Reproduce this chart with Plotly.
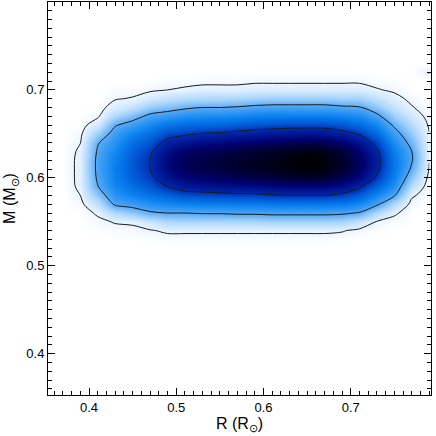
import numpy as np
import plotly.graph_objects as go

# ============================================================
# 1. Data: density grid
# ============================================================
radius = [0.37, 0.39, 0.41, 0.43, 0.45, 0.47, 0.49, 0.51, 0.53, 0.55, 0.57,
          0.59, 0.61, 0.63, 0.65, 0.67, 0.69, 0.71, 0.73, 0.75, 0.77, 0.79]
mass = [0.52, 0.53, 0.54, 0.55, 0.56, 0.57, 0.58, 0.59, 0.60, 0.61, 0.62,
        0.63, 0.64, 0.65, 0.66, 0.67, 0.68, 0.69, 0.70, 0.71, 0.72]

# one list per radius column, values along mass (0.52 -> 0.72), peak = 1
density_cols = [
    [0, 0, 0, 0, 0, 0, 0, 0, 0, 0, 0, 0, 0, 0, 0, 0, 0, 0, 0, 0, 0],
    [0, 0, 0, 0, 0, 0.012, 0.03, 0.042, 0.045, 0.045, 0.045, 0.04, 0.028, 0.015, 0.005, 0, 0, 0, 0, 0, 0],
    [0, 0, 0.005, 0.015, 0.04, 0.10, 0.18, 0.245, 0.27, 0.28, 0.28, 0.265, 0.24, 0.16, 0.07, 0.02, 0.005, 0, 0, 0, 0],
    [0, 0, 0.01, 0.035, 0.12, 0.27, 0.34, 0.38, 0.40, 0.41, 0.40, 0.38, 0.34, 0.30, 0.24, 0.13, 0.06, 0.025, 0.01, 0, 0],
    [0, 0, 0.015, 0.04, 0.17, 0.30, 0.40, 0.46, 0.50, 0.52, 0.52, 0.50, 0.46, 0.40, 0.30, 0.20, 0.10, 0.035, 0.01, 0, 0],
    [0, 0.005, 0.025, 0.08, 0.23, 0.35, 0.45, 0.52, 0.57, 0.60, 0.60, 0.58, 0.53, 0.46, 0.38, 0.28, 0.17, 0.07, 0.02, 0, 0],
    [0, 0.01, 0.04, 0.12, 0.25, 0.38, 0.50, 0.60, 0.69, 0.74, 0.75, 0.72, 0.64, 0.55, 0.44, 0.31, 0.20, 0.10, 0.03, 0.01, 0],
    [0, 0.01, 0.04, 0.13, 0.25, 0.40, 0.54, 0.66, 0.76, 0.82, 0.83, 0.80, 0.70, 0.58, 0.47, 0.35, 0.23, 0.12, 0.04, 0.01, 0],
    [0, 0.01, 0.04, 0.13, 0.26, 0.41, 0.55, 0.68, 0.79, 0.85, 0.86, 0.83, 0.73, 0.61, 0.48, 0.36, 0.25, 0.13, 0.05, 0.015, 0],
    [0, 0.01, 0.04, 0.13, 0.26, 0.41, 0.56, 0.70, 0.81, 0.87, 0.88, 0.85, 0.75, 0.62, 0.49, 0.37, 0.25, 0.13, 0.05, 0.015, 0],
    [0, 0.01, 0.04, 0.13, 0.27, 0.42, 0.57, 0.71, 0.83, 0.90, 0.91, 0.88, 0.78, 0.64, 0.51, 0.38, 0.26, 0.14, 0.05, 0.015, 0],
    [0, 0.01, 0.04, 0.13, 0.27, 0.42, 0.57, 0.72, 0.85, 0.92, 0.93, 0.90, 0.80, 0.66, 0.53, 0.40, 0.28, 0.15, 0.06, 0.02, 0],
    [0, 0.01, 0.04, 0.14, 0.28, 0.43, 0.59, 0.74, 0.87, 0.94, 0.95, 0.92, 0.82, 0.68, 0.54, 0.41, 0.29, 0.16, 0.06, 0.02, 0],
    [0, 0.01, 0.04, 0.14, 0.28, 0.43, 0.60, 0.75, 0.89, 0.97, 0.98, 0.95, 0.84, 0.69, 0.55, 0.41, 0.29, 0.16, 0.06, 0.02, 0],
    [0, 0.01, 0.04, 0.14, 0.28, 0.43, 0.60, 0.76, 0.90, 0.98, 1.00, 0.97, 0.86, 0.70, 0.55, 0.41, 0.29, 0.16, 0.06, 0.02, 0],
    [0, 0.01, 0.04, 0.14, 0.28, 0.43, 0.60, 0.75, 0.89, 0.97, 0.98, 0.95, 0.84, 0.69, 0.55, 0.41, 0.29, 0.16, 0.06, 0.02, 0],
    [0, 0.005, 0.035, 0.13, 0.27, 0.42, 0.57, 0.71, 0.83, 0.90, 0.92, 0.89, 0.79, 0.65, 0.52, 0.39, 0.27, 0.15, 0.06, 0.02, 0],
    [0, 0, 0.015, 0.09, 0.24, 0.38, 0.51, 0.62, 0.74, 0.81, 0.82, 0.78, 0.70, 0.59, 0.47, 0.36, 0.26, 0.15, 0.06, 0.02, 0],
    [0, 0, 0.005, 0.025, 0.12, 0.27, 0.38, 0.48, 0.58, 0.63, 0.64, 0.62, 0.56, 0.47, 0.38, 0.28, 0.18, 0.10, 0.035, 0.01, 0],
    [0, 0, 0, 0.01, 0.04, 0.12, 0.26, 0.34, 0.40, 0.43, 0.43, 0.41, 0.36, 0.30, 0.23, 0.15, 0.09, 0.05, 0.02, 0.005, 0],
    [0, 0, 0, 0, 0, 0.01, 0.04, 0.10, 0.17, 0.23, 0.26, 0.25, 0.21, 0.16, 0.11, 0.07, 0.035, 0.015, 0, 0, 0],
    [0, 0, 0, 0, 0, 0, 0, 0, 0.01, 0.025, 0.032, 0.036, 0.036, 0.032, 0.022, 0.01, 0, 0, 0, 0, 0.034],
]

contour_levels = [0.03, 0.25, 0.6]

x_ticks = [0.4, 0.5, 0.6, 0.7]
y_ticks = [0.4, 0.5, 0.6, 0.7]

# heatmap wants rows = mass, columns = radius
z = np.array(density_cols).T

# ============================================================
# 2. Figure
# ============================================================
blues = [
    [0.0, '#ffffff'],
    [0.04, '#e4f2ff'],
    [0.14, '#a8d4fb'],
    [0.26, '#4ea6f6'],
    [0.4, '#0a82f0'],
    [0.52, '#0058d6'],
    [0.62, '#0024a8'],
    [0.78, '#000070'],
    [0.9, '#000030'],
    [1.0, '#000000'],
]

fig = go.Figure()

fig.add_trace(go.Heatmap(
    x=radius, y=mass, z=z,
    zmin=0, zmax=1,
    colorscale=blues,
    zsmooth='best',
    showscale=False,
    hoverinfo='skip'
))

for lev in contour_levels:
    fig.add_trace(go.Contour(
        x=radius, y=mass, z=z,
        autocontour=False,
        contours=dict(start=lev, end=lev, size=1, coloring='lines'),
        line=dict(color='#1a1a1a', width=1),
        colorscale=[[0, '#1a1a1a'], [1, '#1a1a1a']],
        showscale=False,
        hoverinfo='skip'
    ))

axis_style = dict(
    showline=True, linecolor='black', linewidth=1, mirror='allticks',
    ticks='inside', ticklen=7, tickwidth=1, tickcolor='black',
    minor=dict(dtick=0.01, ticks='inside', ticklen=4, tickwidth=1, tickcolor='black'),
    showgrid=False, zeroline=False,
    tickfont=dict(size=13, color='black'),
)

fig.update_layout(
    width=436, height=436,
    margin=dict(l=48, r=5, t=2, b=41),
    plot_bgcolor='white',
    paper_bgcolor='white',
    font=dict(family='Liberation Sans, Arial, sans-serif', size=13, color='black'),
    xaxis=dict(range=[0.353, 0.792], tickvals=x_ticks,
               title=dict(text='R (R<sub>⊙</sub>)', standoff=2), **axis_style),
    yaxis=dict(range=[0.353, 0.8], tickvals=y_ticks,
               title=dict(text='M (M<sub>⊙</sub>)', standoff=6), **axis_style),
    showlegend=False,
)

# drop the default page margin so the figure sits at the window's corner
fig.write_html("out.html", config={'displayModeBar': False},
               post_script="document.body.style.margin='0';")
